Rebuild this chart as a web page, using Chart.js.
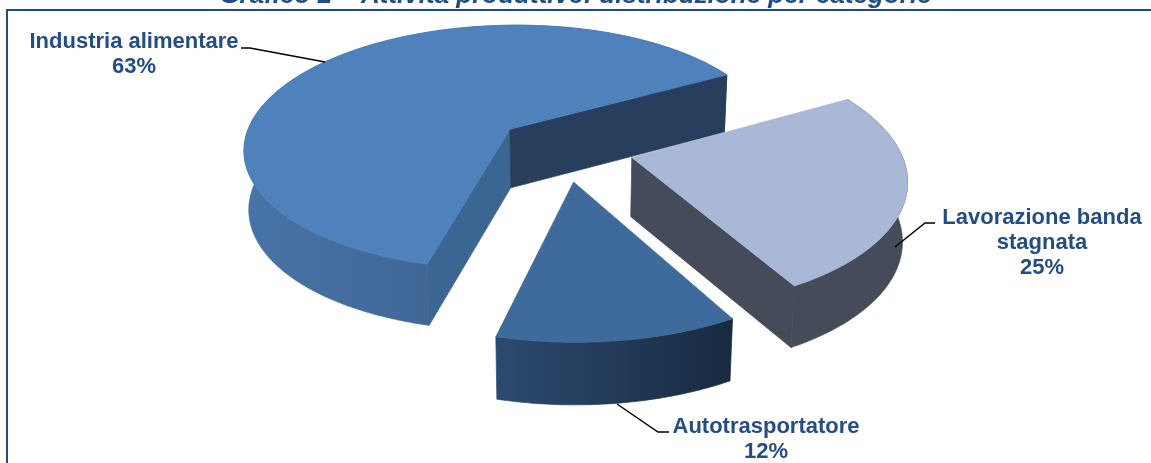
<!DOCTYPE html>
<html>
<head>
<meta charset="utf-8">
<style>
  html, body { margin: 0; padding: 0; background: #fff; overflow: hidden; }
  canvas { display: block; }
</style>
<script src="https://cdn.jsdelivr.net/npm/chart.js@4"></script>
</head>
<body>
<canvas id="pieChart" width="1151" height="463"></canvas>
<script>
const categories = ['Industria alimentare', 'Lavorazione banda stagnata', 'Autotrasportatore'];
const shares = [63, 25, 12];
const chartTitle = 'Grafico 2 – Attività produttive: distribuzione per categorie';

const topColors = ['#4f81bd', '#a9b8d7', '#3f6a9c'];
const wallColors = [['#4873a6', '#33547e'], ['#454b59', '#454b59'], ['#2c4a70', '#182a41']];
const cutColors = [['#3c6692', '#273e5c'], [null, '#454b59'], [null, null]];

// label text lines and leader lines, in page pixels
const labelLines = [['Industria alimentare', '63%'], ['Lavorazione banda', 'stagnata', '25%'], ['Autotrasportatore', '12%']];
const labelPos = [[134, 42], [1042, 218], [766, 427]];
const leaders = [
    [[241, 48], [250, 48], [325, 62]],
    [[935, 223], [925, 223], [895, 247]],
    [[617, 404], [658, 432], [669, 432]]
];

// perspective view of the pie
const view = { cx: 564, cy: 148.5, rx: 268, ry: 125, persp: 0.15, depth: 59, shrink: 0.985, explode: 0.26 };

function project(u, v, low) {
    const s = 1 / (1 - view.persp * v);
    if (!low) return [view.cx + view.rx * u * s, view.cy + view.ry * v * s];
    return [
        view.cx + view.rx * u * s * view.shrink,
        view.cy + view.ry * v * s * view.shrink + view.depth * Math.sqrt(s)
    ];
}

function trace(ctx, pts) {
    ctx.beginPath();
    pts.forEach((p, i) => i ? ctx.lineTo(p[0], p[1]) : ctx.moveTo(p[0], p[1]));
    ctx.closePath();
}

function paint(ctx, style) {
    ctx.fillStyle = style;
    ctx.strokeStyle = style;
    ctx.lineWidth = 0.7;
    ctx.fill();
    ctx.stroke();
}

const pie3d = {
    id: 'pie3d',
    beforeDraw(chart) {
        const ctx = chart.ctx;
        ctx.save();
        ctx.strokeStyle = '#1f4e85';
        ctx.lineWidth = 2;
        ctx.strokeRect(7, 10, 1300, 700);
        ctx.restore();
    },
    beforeDatasetsDraw(chart) {
        const ctx = chart.ctx;
        const arcs = chart.getDatasetMeta(0).data;

        arcs.forEach((arc, i) => {
            const mid = (arc.startAngle + arc.endAngle) / 2;
            const ox = Math.cos(mid) * view.explode;
            const oy = Math.sin(mid) * view.explode;
            const upper = [];
            const lower = [];
            const steps = Math.ceil((arc.endAngle - arc.startAngle) * 90);
            for (let s = 0; s <= steps; s++) {
                const a = arc.startAngle + (arc.endAngle - arc.startAngle) * s / steps;
                upper.push(project(ox + Math.cos(a), oy + Math.sin(a), false));
                lower.push(project(ox + Math.cos(a), oy + Math.sin(a), true));
            }
            const apexUp = project(ox, oy, false);
            const apexLow = project(ox, oy, true);

            // outer wall
            const xs = upper.map(p => p[0]);
            const grad = ctx.createLinearGradient(Math.min(...xs), 0, Math.max(...xs), 0);
            grad.addColorStop(0, wallColors[i][0]);
            grad.addColorStop(1, wallColors[i][1]);
            trace(ctx, upper.concat(lower.slice().reverse()));
            paint(ctx, grad);

            // cut faces
            if (cutColors[i][0]) {
                trace(ctx, [apexUp, upper[0], lower[0], apexLow]);
                paint(ctx, cutColors[i][0]);
            }
            if (cutColors[i][1]) {
                trace(ctx, [apexUp, upper[steps], lower[steps], apexLow]);
                paint(ctx, cutColors[i][1]);
            }

            // top
            trace(ctx, [apexUp].concat(upper));
            paint(ctx, arc.options.backgroundColor);
        });

        ctx.save();
        ctx.strokeStyle = '#000';
        ctx.lineWidth = 1.5;
        leaders.forEach(line => {
            ctx.beginPath();
            line.forEach((p, i) => i ? ctx.lineTo(p[0], p[1]) : ctx.moveTo(p[0], p[1]));
            ctx.stroke();
        });
        ctx.fillStyle = '#234e85';
        ctx.font = 'bold 22px "Liberation Sans", Arial, sans-serif';
        ctx.textAlign = 'center';
        ctx.textBaseline = 'middle';
        labelLines.forEach((lines, i) => {
            lines.forEach((t, j) => ctx.fillText(t, labelPos[i][0], labelPos[i][1] + j * 25));
        });
        ctx.restore();
        return false;
    }
};

new Chart(document.getElementById('pieChart'), {
    type: 'pie',
    data: {
        labels: categories,
        datasets: [{ data: shares, backgroundColor: topColors, borderWidth: 0 }]
    },
    options: {
        responsive: false,
        animation: false,
        rotation: 194,
        plugins: {
            legend: { display: false },
            tooltip: { enabled: false },
            title: {
                display: true,
                text: chartTitle,
                color: '#1f4e85',
                font: { family: '"Liberation Sans", Arial, sans-serif', size: 26, weight: 'bold', style: 'italic' },
                padding: { top: -20, bottom: 0 }
            }
        }
    },
    plugins: [pie3d]
});
</script>
</body>
</html>
